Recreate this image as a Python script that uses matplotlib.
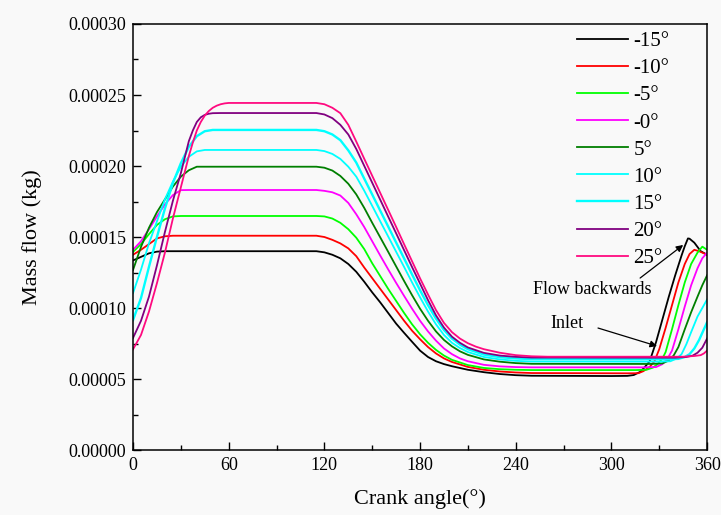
import matplotlib
matplotlib.use('Agg')
import matplotlib.pyplot as plt
import numpy as np
from matplotlib.ticker import MultipleLocator, FormatStrFormatter

# Mass flow through one cycle for each valve timing offset.
# Values are stored in units of 1e-4 kg.
labels = ['-15°', '-10°', '-5°', '-0°', '5°', '10°', '15°', '20°', '25°']
colors = ['#000000', '#ff0000', '#00ff00', '#ff00ff', '#007f00',
          '#00ffff', '#00ffff', '#800080', '#ff0a80']

ang_m15 = [0, 5, 10, 15, 20, 115, 120, 125, 130, 135, 140, 145, 150, 155, 160, 165, 170, 175,
           180, 185, 190, 195, 200, 210, 220, 230, 240, 250, 300, 310, 314, 318, 321, 324, 328,
           332, 336, 340, 344, 346, 348, 349, 352, 356, 360]
mf_m15 = [1.335, 1.36, 1.385, 1.397, 1.40, 1.40, 1.392, 1.375, 1.35, 1.31, 1.255, 1.185, 1.11,
          1.04, 0.965, 0.89, 0.825, 0.762, 0.70, 0.655, 0.625, 0.605, 0.59, 0.565, 0.548, 0.535,
          0.527, 0.523, 0.521, 0.522, 0.528, 0.55, 0.585, 0.625, 0.76, 0.92, 1.08, 1.23, 1.37,
          1.435, 1.49, 1.488, 1.46, 1.40, 1.375]

ang_m10 = [0, 5, 10, 15, 20, 25, 115, 120, 125, 130, 135, 140, 145, 150, 155, 160, 165, 170,
           175, 180, 185, 190, 195, 200, 210, 220, 230, 240, 250, 310, 317, 320, 324, 327, 330,
           334, 338, 342, 346, 349, 352, 355, 358, 360]
mf_m10 = [1.375, 1.41, 1.45, 1.49, 1.505, 1.509, 1.509, 1.50, 1.48, 1.455, 1.42, 1.365, 1.285,
          1.21, 1.135, 1.06, 0.985, 0.91, 0.84, 0.78, 0.725, 0.68, 0.645, 0.62, 0.585, 0.565,
          0.553, 0.546, 0.542, 0.540, 0.541, 0.555, 0.585, 0.625, 0.71, 0.86, 1.02, 1.18, 1.31,
          1.38, 1.41, 1.40, 1.385, 1.375]

ang_m5 = [0, 5, 10, 15, 20, 25, 30, 115, 120, 125, 130, 135, 140, 145, 150, 155, 160, 165, 170,
          175, 180, 185, 190, 195, 200, 210, 220, 230, 240, 250, 315, 322, 326, 329, 332, 334,
          338, 342, 346, 350, 354, 357, 360]
mf_m5 = [1.395, 1.45, 1.52, 1.585, 1.625, 1.645, 1.648, 1.648, 1.645, 1.63, 1.60, 1.555, 1.495,
         1.415, 1.315, 1.225, 1.135, 1.05, 0.965, 0.885, 0.815, 0.755, 0.705, 0.665, 0.635,
         0.598, 0.578, 0.569, 0.565, 0.563, 0.563, 0.565, 0.58, 0.605, 0.645, 0.69, 0.85, 1.02,
         1.18, 1.31, 1.39, 1.432, 1.41]

ang_0 = [0, 5, 10, 15, 20, 25, 30, 35, 115, 120, 125, 130, 135, 140, 145, 150, 155, 160, 165,
         170, 175, 180, 185, 190, 195, 200, 205, 210, 220, 230, 240, 250, 320, 328, 332, 335,
         338, 342, 346, 350, 354, 357, 360]
mf_0 = [1.41, 1.47, 1.555, 1.645, 1.73, 1.795, 1.83, 1.831, 1.831, 1.825, 1.815, 1.792, 1.74,
        1.66, 1.57, 1.47, 1.37, 1.272, 1.177, 1.085, 0.995, 0.91, 0.835, 0.77, 0.715, 0.675,
        0.645, 0.625, 0.60, 0.589, 0.584, 0.582, 0.582, 0.584, 0.605, 0.64, 0.70, 0.85, 1.01,
        1.16, 1.28, 1.35, 1.39]

ang_p5 = [0, 5, 10, 15, 20, 25, 30, 35, 40, 115, 120, 125, 130, 135, 140, 145, 150, 155, 160,
          165, 170, 175, 180, 185, 190, 195, 200, 205, 210, 220, 230, 240, 250, 325, 332, 336,
          339, 342, 346, 350, 354, 357, 360]
mf_p5 = [1.268, 1.43, 1.565, 1.675, 1.765, 1.855, 1.925, 1.97, 1.995, 1.995, 1.988, 1.968, 1.93,
         1.875, 1.80, 1.705, 1.60, 1.498, 1.396, 1.293, 1.19, 1.09, 0.995, 0.91, 0.835, 0.775,
         0.73, 0.695, 0.67, 0.638, 0.622, 0.612, 0.607, 0.606, 0.61, 0.63, 0.665, 0.725, 0.85,
         0.97, 1.08, 1.16, 1.23]

ang_p10 = [0, 5, 10, 15, 20, 25, 30, 35, 40, 45, 115, 120, 125, 130, 135, 140, 145, 150, 155,
           160, 165, 170, 175, 180, 185, 190, 195, 200, 205, 210, 220, 230, 240, 250, 330, 337,
           341, 344, 347, 350, 354, 357, 360]
mf_p10 = [1.105, 1.27, 1.455, 1.61, 1.765, 1.89, 1.995, 2.065, 2.103, 2.113, 2.113, 2.105,
          2.085, 2.05, 1.995, 1.925, 1.826, 1.719, 1.611, 1.504, 1.396, 1.289, 1.18, 1.075,
          0.975, 0.885, 0.81, 0.755, 0.718, 0.69, 0.655, 0.638, 0.628, 0.623, 0.622, 0.625,
          0.645, 0.675, 0.745, 0.83, 0.94, 1.00, 1.06]

ang_p15 = [0, 5, 10, 15, 20, 25, 30, 35, 40, 45, 50, 115, 120, 125, 130, 135, 140, 145, 150,
           155, 160, 165, 170, 175, 180, 185, 190, 195, 200, 205, 210, 220, 230, 240, 250, 335,
           342, 346, 349, 352, 355, 358, 360]
mf_p15 = [0.915, 1.07, 1.29, 1.50, 1.70, 1.88, 2.02, 2.135, 2.21, 2.245, 2.254, 2.254, 2.245,
          2.222, 2.182, 2.11, 2.024, 1.911, 1.799, 1.686, 1.574, 1.461, 1.349, 1.236, 1.125,
          1.02, 0.925, 0.845, 0.785, 0.742, 0.71, 0.672, 0.654, 0.645, 0.64, 0.639, 0.642,
          0.655, 0.675, 0.715, 0.775, 0.85, 0.90]

ang_p20 = [0, 5, 10, 15, 20, 25, 30, 35, 37.5, 40, 42.5, 45, 47.5, 50, 55, 115, 120, 125, 130,
           135, 140, 145, 150, 155, 160, 165, 170, 175, 180, 185, 190, 195, 200, 205, 210, 220,
           230, 240, 250, 340, 347, 351, 354, 357, 360]
mf_p20 = [0.789, 0.91, 1.08, 1.30, 1.535, 1.755, 1.95, 2.175, 2.25, 2.31, 2.343, 2.36, 2.368,
          2.372, 2.373, 2.373, 2.363, 2.337, 2.29, 2.222, 2.12, 2.001, 1.882, 1.763, 1.644,
          1.526, 1.407, 1.288, 1.172, 1.055, 0.948, 0.862, 0.798, 0.755, 0.722, 0.684, 0.665,
          0.656, 0.651, 0.65, 0.655, 0.665, 0.685, 0.72, 0.785]

ang_p25 = [0, 5, 10, 15, 20, 25, 30, 35, 37.5, 40, 42.5, 45, 47.5, 50, 52.5, 55, 57.5, 60, 115,
           120, 125, 130, 135, 140, 145, 150, 155, 160, 165, 170, 175, 180, 185, 190, 195, 200,
           205, 210, 215, 220, 230, 240, 250, 260, 345, 352, 356, 358, 360]
mf_p25 = [0.709, 0.81, 0.975, 1.175, 1.39, 1.63, 1.85, 2.07, 2.165, 2.25, 2.31, 2.355, 2.387,
          2.41, 2.425, 2.435, 2.441, 2.444, 2.444, 2.435, 2.41, 2.372, 2.29, 2.172, 2.051, 1.931,
          1.811, 1.691, 1.571, 1.449, 1.329, 1.209, 1.095, 0.985, 0.895, 0.83, 0.785, 0.752,
          0.728, 0.71, 0.685, 0.668, 0.66, 0.657, 0.657, 0.662, 0.668, 0.68, 0.70]

angles = [ang_m15, ang_m10, ang_m5, ang_0, ang_p5, ang_p10, ang_p15, ang_p20, ang_p25]
flows = [mf_m15, mf_m10, mf_m5, mf_0, mf_p5, mf_p10, mf_p15, mf_p20, mf_p25]
widths = [1.3, 1.3, 1.3, 1.3, 1.3, 1.3, 1.7, 1.3, 1.3]

SCALE = 1e-4

plt.rcParams['font.family'] = ['Liberation Serif', 'DejaVu Serif']
bg = '#f9f9f9'

fig = plt.figure(figsize=(7.21, 5.15), dpi=100, facecolor=bg)
ax = fig.add_axes([0.1845, 0.1262, 0.7962, 0.8272], facecolor=bg)

for ang, mf, c, lab, lw in zip(angles, flows, colors, labels, widths):
    ax.plot(ang, np.array(mf) * SCALE, color=c, lw=lw, label=lab)

ax.set_xlim(0, 360)
ax.set_ylim(0, 0.0003)
ax.xaxis.set_major_locator(MultipleLocator(60))
ax.xaxis.set_minor_locator(MultipleLocator(30))
ax.yaxis.set_major_locator(MultipleLocator(0.00005))
ax.yaxis.set_minor_locator(MultipleLocator(0.000025))
ax.yaxis.set_major_formatter(FormatStrFormatter('%.5f'))
ax.tick_params(which='major', direction='in', length=6, width=1.0, labelsize=13, pad=5)
ax.tick_params(which='minor', direction='in', length=3.5, width=1.0)
for sp in ax.spines.values():
    sp.set_linewidth(1.1)

ax.set_xlabel('Crank angle(°)', fontsize=16, labelpad=11)
ax.set_ylabel('Mass flow (kg)', fontsize=16, labelpad=19)

ax.legend(loc='upper left', bbox_to_anchor=(0.7735, 0.982), frameon=False, fontsize=15,
          handlelength=2.45, handletextpad=0.25, labelspacing=0.36, borderpad=0,
          borderaxespad=0)

# Arrows marking the inlet and the backflow peak
ax.text(288, 0.0001127, 'Flow backwards', fontsize=13, ha='center', va='center')
ax.text(272, 0.0000894, 'Inlet', fontsize=13, ha='center', va='center')
arrow = dict(arrowstyle='-|>', color='black', lw=0.9, mutation_scale=10, shrinkA=0, shrinkB=0)
ax.annotate('', xy=(345, 0.0001444), xytext=(318, 0.0001211), arrowprops=arrow)
ax.annotate('', xy=(328.6, 0.0000732), xytext=(291.6, 0.0000859), arrowprops=arrow)

fig.savefig('out.png', dpi=100, facecolor=bg)
